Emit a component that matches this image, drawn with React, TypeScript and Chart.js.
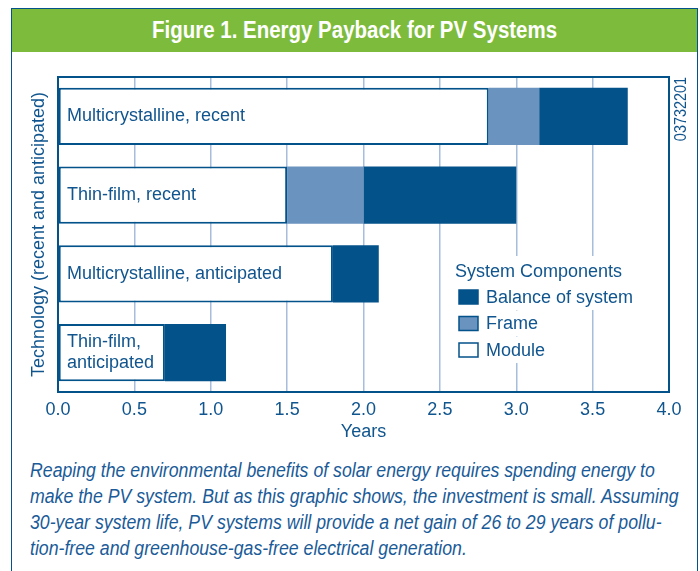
import React, { useEffect, useRef } from "react";
import { Chart, registerables } from "chart.js";

Chart.register(...registerables);

const categories: (string | string[])[] = [
  "Multicrystalline, recent",
  "Thin-film, recent",
  "Multicrystalline, anticipated",
  ["Thin-film,", "anticipated"],
];
const moduleYears = [2.82, 1.5, 1.8, 0.7];
const frameYears: (number | null)[] = [0.33, 0.5, null, null];
const balanceYears = [0.58, 1.0, 0.3, 0.4];
const xTickLabels = ["0.0", "0.5", "1.0", "1.5", "2.0", "2.5", "3.0", "3.5", "4.0"];
const legendTitle = "System Components";
const legendOrder = ["Balance of system", "Frame", "Module"];

const FONT = "'Liberation Sans', Arial, sans-serif";
const DARK = "#03528a";
const TEXT = "#10558e";
const FRAMEC = "#6a93bf";
const GRID = "#a6bedb";

const framePlugin = {
  id: "plotFrame",
  afterDraw(chart: any) {
    const { ctx, chartArea: a } = chart;
    ctx.save();
    ctx.strokeStyle = DARK;
    ctx.lineWidth = 2;
    ctx.strokeRect(a.left, a.top, a.right - a.left, a.bottom - a.top);
    ctx.restore();
  },
};

const legendPlugin = {
  id: "customLegend",
  afterDraw(chart: any) {
    const { ctx, chartArea: a } = chart;
    const x0 = a.right - 214;
    const titleY = a.bottom - 121;
    ctx.save();
    ctx.font = `18px ${FONT}`;
    ctx.textBaseline = "middle";
    const tw = ctx.measureText(legendTitle).width;
    ctx.fillStyle = "#ffffff";
    ctx.fillRect(x0 - 5, titleY - 15, tw + 12, 30);
    ctx.fillStyle = TEXT;
    ctx.fillText(legendTitle, x0, titleY + 1);
    legendOrder.forEach((name, i) => {
      const ds = chart.data.datasets.find((d: any) => d.label === name);
      const cy = titleY + 26 + i * 26.5;
      const w = ctx.measureText(name).width;
      ctx.fillStyle = "#ffffff";
      ctx.fillRect(x0 - 2, cy - 13, w + 40, 26);
      ctx.fillStyle = ds.backgroundColor;
      ctx.fillRect(x0 + 4, cy - 7, 19, 14);
      ctx.strokeStyle = DARK;
      ctx.lineWidth = 1.5;
      ctx.strokeRect(x0 + 4, cy - 7, 19, 14);
      ctx.fillStyle = TEXT;
      ctx.fillText(name, x0 + 31, cy + 1);
    });
    ctx.restore();
  },
};

function PaybackChart() {
  const ref = useRef<HTMLCanvasElement | null>(null);
  useEffect(() => {
    if (!ref.current) return;
    const chart = new Chart(ref.current, {
      type: "bar",
      data: {
        labels: categories as any,
        datasets: [
          {
            label: "Module",
            data: moduleYears,
            backgroundColor: "#ffffff",
            borderColor: DARK,
            borderWidth: 2,
            borderSkipped: false,
          },
          {
            label: "Frame",
            data: frameYears,
            backgroundColor: FRAMEC,
            borderColor: "#5c87b5",
            borderWidth: 0,
          },
          {
            label: "Balance of system",
            data: balanceYears,
            backgroundColor: DARK,
            borderColor: DARK,
            borderWidth: 0,
          },
        ],
      },
      options: {
        indexAxis: "y",
        responsive: false,
        animation: false,
        devicePixelRatio: 1,
        layout: { padding: { left: 0, top: 77, right: 31, bottom: 0 } },
        datasets: { bar: { barPercentage: 0.725, categoryPercentage: 1 } },
        plugins: { legend: { display: false }, tooltip: { enabled: false } },
        scales: {
          x: {
            type: "linear",
            stacked: true,
            min: 0,
            max: 4,
            ticks: {
              stepSize: 0.5,
              padding: 7,
              color: TEXT,
              font: { family: FONT, size: 18 },
              callback: (_v: any, i: number) => xTickLabels[i],
            },
            grid: { color: GRID, lineWidth: 1.5, drawTicks: false },
            border: { display: true, color: DARK, width: 2 },
            title: {
              display: true,
              text: "Years",
              color: TEXT,
              font: { family: FONT, size: 18 },
              padding: { top: 0, bottom: 9 },
            },
            afterFit: (s: any) => {
              s.height = 60;
            },
          },
          y: {
            type: "category",
            stacked: true,
            ticks: {
              z: 1,
              mirror: true,
              padding: 9,
              color: TEXT,
              font: { family: FONT, size: 18, lineHeight: 1.17 },
            },
            grid: { display: false, drawTicks: false },
            border: { display: true, color: DARK, width: 2 },
            title: {
              display: true,
              text: "Technology (recent and anticipated)",
              color: TEXT,
              font: { family: FONT, size: 18 },
              padding: { top: 28, bottom: 0 },
            },
            afterFit: (s: any) => {
              s.width = 58;
            },
          },
        },
      } as any,
      plugins: [framePlugin, legendPlugin],
    });
    return () => chart.destroy();
  }, []);
  return (
    <canvas
      ref={ref}
      width={700}
      height={452}
      style={{ position: "absolute", left: 0, top: 0, width: 700, height: 452 }}
    />
  );
}

export default function App() {
  return (
    <div
      style={{
        position: "fixed",
        left: 0,
        top: 0,
        width: 700,
        height: 571,
        overflow: "hidden",
        background: "#ffffff",
        fontFamily: FONT,
      }}
    >
      <div
        style={{
          position: "absolute",
          left: 11,
          top: 8,
          width: 685,
          height: 620,
          borderTop: `1px solid ${DARK}`,
          borderLeft: `1.5px solid ${DARK}`,
          borderRight: `1.5px solid ${DARK}`,
        }}
      >
        <div
          style={{
            height: 43,
            background: "#7dbb3c",
            color: "#ffffff",
            fontWeight: "bold",
            fontSize: 23,
            lineHeight: "43px",
            textAlign: "center",
            whiteSpace: "nowrap",
          }}
        >
          <span style={{ display: "inline-block", transform: "scaleX(0.89)" }}>
            Figure 1. Energy Payback for PV Systems
          </span>
        </div>
      </div>
      <PaybackChart />
      <div
        style={{
          position: "absolute",
          left: 672,
          top: 80,
          width: 16,
          height: 60,
        }}
      >
        <div
          style={{
            position: "absolute",
            left: 8,
            top: 29,
            transform: "translate(-50%, -50%) rotate(-90deg) scaleX(0.85)",
            fontSize: 17,
            color: TEXT,
            whiteSpace: "nowrap",
            lineHeight: "17px",
          }}
        >
          03732201
        </div>
      </div>
      <div
        style={{
          position: "absolute",
          left: 30,
          top: 457,
          width: 760,
          fontStyle: "italic",
          fontSize: 20,
          lineHeight: "26px",
          color: "#1a5b98",
          whiteSpace: "nowrap",
          transform: "scaleX(0.885)",
          transformOrigin: "0 0",
        }}
      >
        Reaping the environmental benefits of solar energy requires spending energy to
        <br />
        make the PV system. But as this graphic shows, the investment is small. Assuming
        <br />
        30-year system life, PV systems will provide a net gain of 26 to 29 years of pollu-
        <br />
        tion-free and greenhouse-gas-free electrical generation.
      </div>
    </div>
  );
}
